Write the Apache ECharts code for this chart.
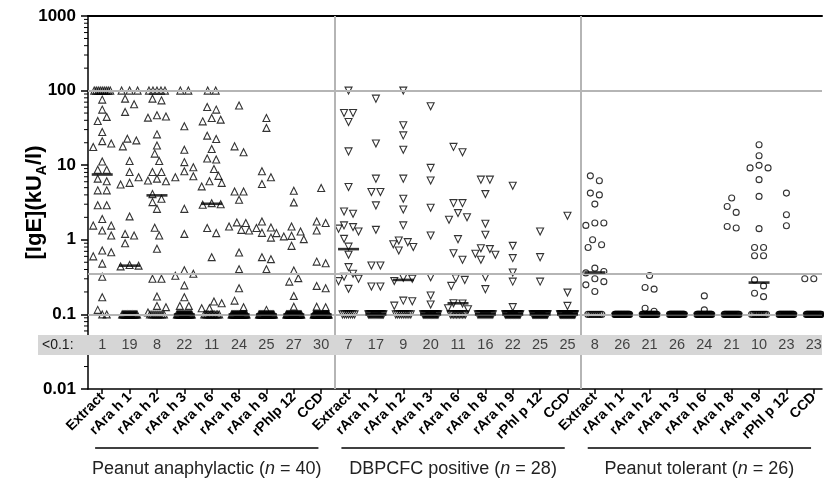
<!DOCTYPE html>
<html><head><meta charset="utf-8">
<script src="https://cdn.jsdelivr.net/npm/echarts@6/dist/echarts.min.js"></script>
<style>html,body{margin:0;padding:0;background:#fff}#c{width:824px;height:483px}</style>
</head><body><div id="c"></div>
<script>
// ---------------- DATA ----------------
const allergensA = ['Extract','rAra h 1','rAra h 2','rAra h 3','rAra h 6','rAra h 8','rAra h 9','rPhlp 12','CCD'];
const allergensB = ['Extract','rAra h 1','rAra h 2','rAra h 3','rAra h 6','rAra h 8','rAra h 9','rPhl p 12','CCD'];
const groupNames = ['Peanut anaphylactic','DBPCFC positive','Peanut tolerant'];
const groupN = [40, 28, 26];
const yTicks = [0.01, 0.1, 1, 10, 100, 1000];
const referenceLines = [100, 0.35, 0.1];
// number of sera below 0.1 kUA/l (plotted at 0.1)
const belowCounts = [1,19,8,22,11,24,25,27,30, 7,17,9,20,11,16,22,25,25, 8,26,21,26,24,21,10,23,23];
const medians = [7.5,0.45,3.94,0.1,3.04,0.1,0.1,0.1,0.1, 0.75,0.1,0.29,0.1,0.141,0.1,0.1,0.1,0.1, 0.365,0.1,0.1,0.1,0.1,0.1,0.267,0.1,0.1];

const anaphylactic = [
  [100,100,100,100,100,100,100,100,100,75.7,55.6,44.4,39.2,27.9,21,19.5,17.5,11.2,8.7,8.7,6.6,6.1,4.6,4.6,2.9,2.9,1.9,1.55,1.55,1.33,1.14,0.72,0.68,0.6,0.48,0.32,0.17,0.115,0.1],
  [100,100,100,78,65.6,51.8,22.7,21.5,17.9,11.4,8.1,6.9,5.8,5.5,2.06,1.2,1.14,0.9,0.46,0.45,0.44],
  [100,100,100,100,100,78,74,46.7,45,43.4,25.9,18.4,14.3,11.4,8.1,8.1,6.6,6.25,6.1,4.1,3.55,3.2,2.6,1.45,1.14,0.76,0.3,0.3,0.174,0.13,0.125,0.106],
  [100,100,33.2,16.1,11,9.4,8.3,7.1,6.9,2.6,1.2,0.39,0.35,0.33,0.245,0.17,0.13,0.13],
  [100,100,60.4,55.6,43,40.8,38.7,24.9,22.4,16.5,12.3,11.9,8.9,7.2,6.1,5.8,5.2,3.1,3.0,2.95,1.44,1.23,0.585,0.149,0.141,0.121,0.121],
  [63,17.9,14.9,4.45,4.45,3.44,1.71,1.68,1.51,1.36,1.33,0.676,0.404,0.224,0.153,0.125],
  [43,31.6,8.3,6.9,5.6,1.76,1.46,1.44,1.24,1.23,1.07,0.585,0.55,0.404,0.115],
  [4.55,3.17,1.51,1.29,1.13,1.11,1.02,0.83,0.387,0.306,0.275,0.177,0.127],
  [4.94,1.76,1.68,1.33,0.51,0.486,0.241,0.224,0.127,0.125]
];
const dbpcfcPositive = [
  [100,50,50,37.9,15.3,5.1,2.4,2.23,1.56,1.48,1.41,1.29,1.03,0.81,0.63,0.43,0.35,0.32,0.3,0.279,0.22],
  [78,19.5,6.6,4.37,4.37,2.89,1.36,0.452,0.452,0.237,0.237],
  [100,34.3,25.1,16.1,6.6,3.55,2.55,1.56,0.98,0.93,0.87,0.8,0.72,0.31,0.3,0.28,0.153,0.15,0.131],
  [61.6,9.2,6.25,2.69,1.14,0.315,0.179,0.136],
  [17.6,14.9,3.1,3.1,2.28,2.01,1.86,1.02,0.66,0.54,0.306,0.29,0.241,0.141,0.14,0.121,0.117],
  [6.4,6.4,4.1,1.64,1.17,0.77,0.75,0.65,0.63,0.54,0.315,0.218],
  [5.3,0.83,0.568,0.364,0.275,0.125],
  [1.29,0.585,0.275],
  [2.1,0.196,0.13]
];
const tolerant = [
  [7.2,6.2,4.23,4.0,3.01,1.68,1.68,1.56,1.0,0.86,0.79,0.417,0.376,0.36,0.3,0.275,0.249,0.203],
  [],
  [0.332,0.229,0.218,0.121,0.11],
  [],
  [0.177,0.115],
  [3.63,2.8,2.33,1.51,1.44],
  [18.8,13.4,9.95,9.2,9.2,6.4,3.82,1.41,0.79,0.79,0.61,0.61,0.29,0.241,0.192,0.173],
  [4.23,2.17,1.54],
  [0.3,0.3,0.3]
];

// ---------------- LAYOUT ----------------
const FONT = '"Liberation Sans", Arial, Helvetica, sans-serif';
const W = 824, H = 483;
const GRID = {left: 88, right: 2, top: 16, bottom: 94};
const X_MIN = -0.52, X_MAX = 26.3;
const PX_CAT = (W - GRID.left - GRID.right) / (X_MAX - X_MIN);
const PX_DEC = (H - GRID.top - GRID.bottom) / (Math.log10(yTicks[yTicks.length-1]) - Math.log10(yTicks[0]));
const STEP = 4.5, MIN_D = 8;
const CAP = 100, FLOOR = 0.1;
const BAND_TOP = 0.053, BAND_BOT = 0.0286, BAND_MID = 0.039;

const groups = [anaphylactic, dbpcfcPositive, tolerant];
const allLabels = [].concat(allergensA, allergensB, allergensB);
const tickIdx = allLabels.map((_, i) => i);

function spread(n, w) {
  const out = [];
  for (let j = 0; j < n; j++) out.push(n > 1 ? -w + 2 * w * j / (n - 1) : 0);
  return out;
}

function columnPoints(vals, below, ci) {
  const pts = [];
  const caps = vals.filter(v => v >= CAP);
  const rest = vals.filter(v => v < CAP).slice().sort((a, b) => b - a);
  spread(caps.length, Math.min(8, (caps.length - 1) * 4)).forEach(dx => pts.push([ci + dx / PX_CAT, CAP]));
  spread(below, Math.min(7.5, (below - 1) * 1.0)).forEach(dx => pts.push([ci + dx / PX_CAT, FLOOR]));
  const placed = [];
  rest.forEach(v => {
    const y = Math.log10(v) * PX_DEC;
    let dx = 0;
    for (let k = 0; k < 8; k++) {
      const cands = k === 0 ? [0] : [k * STEP, -k * STEP];
      const free = cands.find(c => placed.every(q => Math.hypot(q.dx - c, q.y - y) >= MIN_D));
      if (free !== undefined) { dx = free; break; }
    }
    placed.push({v, y, dx});
  });
  const par = placed.map((_, i) => i);
  const find = i => par[i] === i ? i : (par[i] = find(par[i]));
  for (let i = 0; i < placed.length; i++)
    for (let j = i + 1; j < placed.length; j++)
      if (Math.abs(placed[i].y - placed[j].y) < MIN_D) par[find(i)] = find(j);
  const ext = {};
  placed.forEach((p, i) => {
    const r = find(i);
    if (!ext[r]) ext[r] = [Infinity, -Infinity];
    ext[r][0] = Math.min(ext[r][0], p.dx); ext[r][1] = Math.max(ext[r][1], p.dx);
  });
  placed.forEach((p, i) => {
    const e = ext[find(i)];
    const dx = Math.max(-10, Math.min(10, p.dx - (e[0] + e[1]) / 2));
    pts.push([ci + dx / PX_CAT, p.v]);
  });
  return pts;
}

const symbols = ['triangle', 'triangle', 'circle'];
const rotations = [0, 180, 0];
const sizes = [7, 7, 6];

const pointSeries = groups.map((g, gi) => {
  let data = [];
  g.forEach((vals, k) => {
    const ci = gi * 9 + k;
    data = data.concat(columnPoints(vals, belowCounts[ci], ci));
  });
  return {
    type: 'scatter', data, symbol: symbols[gi], symbolRotate: rotations[gi], symbolSize: sizes[gi],
    itemStyle: {color: 'rgba(255,255,255,0)', borderColor: '#000', borderWidth: 1.1},
    z: 4, silent: true
  };
});

const minorVals = [];
for (let d = Math.log10(yTicks[0]); d < Math.log10(yTicks[yTicks.length-1]); d++)
  for (let m = 2; m <= 9; m++) minorVals.push(m * Math.pow(10, d));

const sepXs = [1, 2].map(g => g * 9 - 0.5);

const option = {
  animation: false,
  backgroundColor: '#fff',
  textStyle: {fontFamily: FONT},
  grid: {left: GRID.left, right: GRID.right, top: GRID.top, bottom: GRID.bottom,
    containLabel: false, outerBoundsMode: 'none'},
  xAxis: [{
    type: 'value', min: X_MIN, max: X_MAX, position: 'bottom',
    axisLine: {onZero: false, lineStyle: {color: '#000', width: 1.5}},
    axisTick: {customValues: tickIdx, length: 5, lineStyle: {color: '#000', width: 1.5}},
    axisLabel: {customValues: tickIdx, formatter: v => allLabels[Math.round(v)], rotate: 45, margin: 6,
      fontWeight: 'bold', fontSize: 14, color: '#000', fontFamily: FONT},
    splitLine: {show: false}
  }, {
    type: 'value', min: X_MIN, max: X_MAX, position: 'top',
    axisLine: {onZero: false, lineStyle: {color: '#000', width: 2}},
    axisTick: {show: false}, axisLabel: {show: false}, splitLine: {show: false}
  }],
  yAxis: {
    type: 'log', logBase: 10, min: yTicks[0], max: yTicks[yTicks.length-1],
    axisLine: {onZero: false, lineStyle: {color: '#000', width: 1.5}},
    axisTick: {length: 7, lineStyle: {color: '#000', width: 1.5}},
    axisLabel: {fontWeight: 'bold', fontSize: 17, color: '#000', margin: 12, fontFamily: FONT,
      formatter: v => String(+v.toPrecision(3))},
    splitLine: {show: false},
    name: '[IgE](kU{s|A}/l)', nameLocation: 'middle', nameRotate: 90, nameGap: 39, nameMoveOverlap: false,
    nameTextStyle: {fontWeight: 'bold', fontSize: 22, color: '#000', fontFamily: FONT, lineHeight: 28,
      rich: {s: {fontWeight: 'bold', fontSize: 14, color: '#000', fontFamily: FONT, verticalAlign: 'bottom', lineHeight: 9}}}
  },
  series: [
    {
      type: 'line', data: [], silent: true, z: 1,
      markLine: {
        silent: true, symbol: 'none', label: {show: false}, animation: false,
        lineStyle: {color: '#b5b5b5', width: 2, type: 'solid'},
        data: referenceLines.map(v => ({yAxis: v})).concat(sepXs.map(x => ({xAxis: x})))
      }
    },
    {
      type: 'custom', silent: true, z: 3,
      data: minorVals.map(v => [X_MIN, v]),
      renderItem: (params, api) => {
        const p = api.coord([api.value(0), api.value(1)]);
        return {type: 'line', shape: {x1: p[0] - 4, y1: p[1], x2: p[0], y2: p[1]},
          style: {stroke: '#000', lineWidth: 1}};
      }
    },
    ...pointSeries,
    {
      type: 'scatter', silent: true, z: 6, symbol: 'rect', symbolSize: [21, 2.6],
      itemStyle: {color: '#000'},
      data: medians.map((m, i) => [i, m])
    },
    {
      type: 'scatter', silent: true, z: 10, symbolSize: 0,
      data: belowCounts.map((c, i) => [i, BAND_MID, c]),
      label: {show: true, position: 'inside', formatter: p => String(p.data[2]),
        fontSize: 14.5, color: '#1a1a1a', fontFamily: FONT}
    }
  ]
};

const chart = echarts.init(document.getElementById('c'), null, {renderer: 'canvas', width: W, height: H});
chart.setOption(option);

const toPx = (x, y) => chart.convertToPixel({xAxisIndex: 0, yAxisIndex: 0}, [x, y]);
const yTop = toPx(0, BAND_TOP)[1], yBot = toPx(0, BAND_BOT)[1];
const [axisX, axisY] = toPx(X_MIN, yTicks[0]);
const rightX = toPx(X_MAX, yTicks[0])[0];
const graphic = [
  {type: 'rect', z: 8, silent: true, shape: {x: axisX - 50, y: yTop, width: rightX - axisX + 50, height: yBot - yTop},
    style: {fill: '#d6d6d6'}},
  {type: 'text', z: 11, silent: true, style: {text: '<0.1:', x: axisX - 46, y: (yTop + yBot) / 2,
    align: 'left', verticalAlign: 'middle', textAlign: 'left', textVerticalAlign: 'middle',
    fontSize: 14, fontFamily: FONT, fill: '#1a1a1a'}}
];
groupNames.forEach((name, g) => {
  const x1 = toPx(g * 9 - 0.26, 1)[0], x2 = toPx(g * 9 + 7.9, 1)[0];
  graphic.push({type: 'line', silent: true, shape: {x1, y1: axisY + 59, x2, y2: axisY + 59},
    style: {stroke: '#000', lineWidth: 1.5}});
  graphic.push({type: 'text', silent: true, style: {
    text: name + ' ({i|n} = ' + groupN[g] + ')', x: (x1 + x2) / 2, y: axisY + 80,
    align: 'center', verticalAlign: 'middle', textAlign: 'center', textVerticalAlign: 'middle',
    fontSize: 18, fontFamily: FONT, fill: '#222',
    rich: {i: {fontStyle: 'italic', fontSize: 18, fontFamily: FONT, fill: '#222'}}}});
});
chart.setOption({graphic});
</script></body></html>
